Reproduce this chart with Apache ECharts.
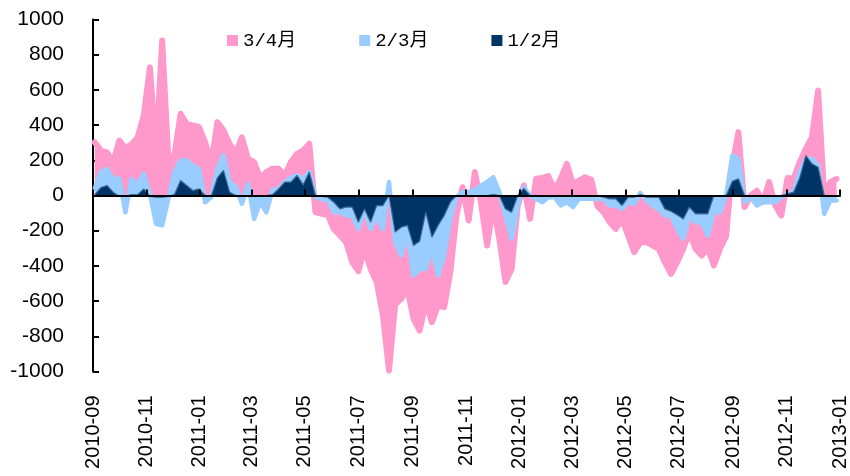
<!DOCTYPE html>
<html>
<head>
<meta charset="utf-8">
<script src="https://cdn.jsdelivr.net/npm/echarts@6/dist/echarts.min.js"></script>
<style>
html,body{margin:0;padding:0;background:#fff;}
#chart{width:850px;height:476px;}
</style>
</head>
<body>
<div id="chart"></div>
<script>
// Weekly observation dates (Fridays) starting 2010-09-03
const firstWeek = '2010-09-03';
const weekCount = 122;

// Series values, one per week
const s34 = [303,255,245,190,312,270,290,330,455,729,246,880,208,230,464,407,398,390,303,180,
  417,370,294,240,331,208,190,95,133,152,152,114,190,237,256,294,-95,-104,-110,-190,
  -227,-265,-379,-430,-303,-417,-492,-682,-994,-620,-587,-530,-700,-767,-606,-720,-625,-634,-436,-114,
  47,-142,133,-38,-284,-57,-246,-492,-417,-60,57,-133,95,100,110,30,95,180,66,85,
  104,90,-60,-95,-152,-190,-133,-227,-322,-265,-265,-284,-303,-379,-445,-379,-303,-208,-303,-341,
  -300,-398,-303,-230,170,360,-66,0,28,-38,76,-57,-114,100,95,190,265,331,597,0,
  76,95];
const s23 = [40,133,150,95,95,-95,95,60,123,10,-161,-170,-20,133,199,199,170,152,-38,-10,
  150,227,76,50,-47,66,-133,-38,-95,30,38,76,100,114,95,133,-10,-20,-25,-95,
  -95,-114,-114,-190,-76,-190,-114,-190,76,-265,-341,-208,-455,-417,-417,-303,-455,-341,-133,-10,
  20,20,30,57,76,104,19,-114,-246,-57,47,0,-19,-38,-10,-10,-57,-38,-66,-19,
  -19,-19,-19,-19,-57,-57,-76,-38,-47,15,-28,-57,-76,-114,-114,-190,-246,-114,-152,-152,
  -227,-95,-95,0,227,208,-38,-10,-57,-38,-38,-38,-10,10,19,133,208,208,170,-104,
  -28,-28];
const s12 = [5,45,57,19,-5,-5,5,5,38,-5,-10,-10,-5,5,85,57,28,38,0,-5,
  100,142,19,0,-5,0,-5,0,0,5,38,76,76,114,60,133,0,-5,-10,-38,
  -76,-66,-66,-152,-76,-152,-57,-57,0,-208,-180,-170,-284,-260,-95,-237,-170,-114,-38,0,
  0,0,0,0,0,5,0,-76,-95,0,40,0,0,0,0,0,0,0,0,0,
  0,0,0,-10,-19,-19,-57,-10,-10,5,-10,-10,-10,-76,-90,-110,-133,-66,-104,-104,
  -104,0,0,0,80,95,0,0,0,0,0,0,0,10,19,100,227,180,161,0,
  0,0];

const seriesNames = ['3/4月', '2/3月', '1/2月'];
const tickLabels = ['2010-09','2010-11','2011-01','2011-03','2011-05','2011-07','2011-09','2011-11',
  '2012-01','2012-03','2012-05','2012-07','2012-09','2012-11','2013-01'];

function pad(n){ return String(n).padStart(2,'0'); }
const dates = [];
{
  const p = firstWeek.split('-').map(Number);
  for (let i = 0; i < weekCount; i++) dates.push(new Date(p[0], p[1]-1, p[2] + 7*i).getTime());
}
function monthTs(s){ const p = s.split('-').map(Number); return new Date(p[0], p[1]-1, 1).getTime(); }
const tickValues = tickLabels.map(monthTs);
const xMin = tickValues[0], xMax = tickValues[tickValues.length-1];
function fmt(v){ const i = tickValues.indexOf(v); return i >= 0 ? tickLabels[i] : ''; }

const colors = ['#FF99CC', '#99CCFF', '#003366'];
const values = [s34, s23, s12];

const chart = echarts.init(document.getElementById('chart'), null, {renderer:'canvas'});
const series = seriesNames.map((n, i) => ({
  name: n,
  type: 'line',
  xAxisIndex: 0,
  showSymbol: false,
  symbol: 'none',
  smooth: false,
  data: dates.map((d, k) => [d, values[i][k]]),
  lineStyle: i === 2
    ? { color: '#3A6A96', width: 1.2 }
    : { color: colors[i], width: i === 0 ? 6 : 4.5, cap: 'round', join: 'round' },
  itemStyle: { color: colors[i] },
  areaStyle: { color: colors[i], opacity: 1, origin: 0 },
  z: 2 + i
}));
// carrier series for the zero-crossing axis (no visible marks)
series.push({
  name: 'axis', type: 'line', xAxisIndex: 1, data: [[xMin, 0], [xMax, 0]],
  showSymbol: false, symbol: 'none', lineStyle: { opacity: 0 }, silent: true, z: 1
});

chart.setOption({
  animation: false,
  backgroundColor: '#fff',
  grid: { left: 93, right: 10, top: 19.5, bottom: 104.5, outerBoundsMode: 'none', containLabel: false },
  legend: {
    left: 222, top: 26,
    itemWidth: 11, itemHeight: 11, itemGap: 63,
    icon: 'rect',
    textStyle: { fontFamily: "'Liberation Mono', 'Noto Sans CJK SC'", fontSize: 19, color: '#000' },
    data: seriesNames.map((n, i) => ({ name: n, itemStyle: { color: colors[i], borderWidth: 0 } }))
  },
  xAxis: [
    {
      type: 'value', min: xMin, max: xMax, position: 'bottom',
      axisLine: { show: false, onZero: false },
      axisTick: { show: false },
      splitLine: { show: false },
      axisLabel: {
        customValues: tickValues,
        formatter: fmt,
        rotate: 90, margin: 24,
        fontFamily: "'Liberation Sans', Arial", fontSize: 20, color: '#000',
        hideOverlap: false
      }
    },
    {
      type: 'value', min: xMin, max: xMax, position: 'bottom', z: 10,
      axisLine: { show: true, onZero: true, lineStyle: { color: '#000', width: 2 } },
      axisTick: { show: true, inside: true, length: 6, customValues: tickValues, lineStyle: { color: '#000', width: 2 } },
      splitLine: { show: false },
      axisLabel: { show: false }
    }
  ],
  yAxis: {
    type: 'value', min: -1000, max: 1000, interval: 200,
    axisLine: { show: true, onZero: false, lineStyle: { color: '#000', width: 2 } },
    axisTick: { show: true, inside: true, length: 6, lineStyle: { color: '#000', width: 2 } },
    splitLine: { show: false },
    axisLabel: { margin: 29, fontFamily: "'Liberation Sans', Arial", fontSize: 21, color: '#000',
      formatter: v => String(v) }
  },
  series: series
});
</script>
</body>
</html>
